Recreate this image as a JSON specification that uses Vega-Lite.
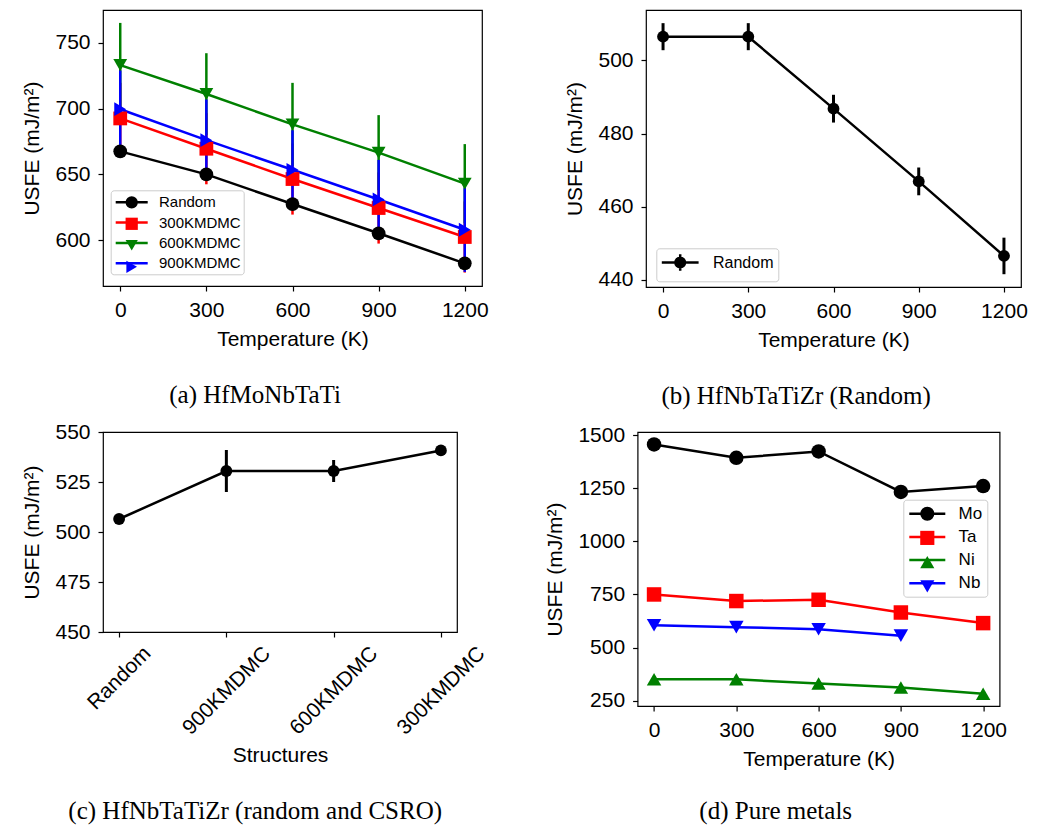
{
  "$schema": "https://vega.github.io/schema/vega-lite/v6.json",
  "background": "white",
  "padding": {"left": 21, "top": 9, "right": 5, "bottom": 3},
  "config": {
    "view": {"stroke": "black", "strokeWidth": 1.2},
    "axis": {"domain": false, "grid": false, "ticks": true, "tickSize": 5, "tickWidth": 1.2, "tickColor": "black",
      "labelFont": "Liberation Sans", "labelFontSize": 21, "labelColor": "black", "labelPadding": 8, "labelFlush": false, "labelOverlap": false,
      "titleFont": "Liberation Sans", "titleFontSize": 21, "titleFontWeight": "normal", "titleColor": "black", "titlePadding": 8},
    "axisY": {"titlePadding": 12},
    "title": {"font": "Liberation Serif", "fontSize": 25, "fontWeight": "normal", "color": "black", "orient": "bottom", "anchor": "middle", "frame": "bounds"}
  },
  "resolve": {"scale": {"color": "independent", "stroke": "independent", "shape": "independent"}, "legend": {"color": "independent", "stroke": "independent", "shape": "independent"}},
  "datasets": {
    "a": [
      {"T": 0, "USFE": 667.5, "err": 2, "s": "Random"},
      {"T": 300, "USFE": 650, "err": 2, "s": "Random"},
      {"T": 600, "USFE": 627.5, "err": 2, "s": "Random"},
      {"T": 900, "USFE": 605.3, "err": 2, "s": "Random"},
      {"T": 1200, "USFE": 582.5, "err": 2, "s": "Random"},
      {"T": 0, "USFE": 692.5, "err": 27, "s": "300KMDMC"},
      {"T": 300, "USFE": 669.5, "err": 27, "s": "300KMDMC"},
      {"T": 600, "USFE": 646.5, "err": 27, "s": "300KMDMC"},
      {"T": 900, "USFE": 624.5, "err": 27, "s": "300KMDMC"},
      {"T": 1200, "USFE": 602.5, "err": 27, "s": "300KMDMC"},
      {"T": 0, "USFE": 733, "err": 32, "s": "600KMDMC"},
      {"T": 300, "USFE": 711, "err": 31, "s": "600KMDMC"},
      {"T": 600, "USFE": 688, "err": 31.5, "s": "600KMDMC"},
      {"T": 900, "USFE": 666.5, "err": 28.5, "s": "600KMDMC"},
      {"T": 1200, "USFE": 643, "err": 30, "s": "600KMDMC"},
      {"T": 0, "USFE": 699.5, "err": 29.5, "s": "900KMDMC"},
      {"T": 300, "USFE": 676, "err": 31, "s": "900KMDMC"},
      {"T": 600, "USFE": 653.5, "err": 30, "s": "900KMDMC"},
      {"T": 900, "USFE": 631, "err": 30, "s": "900KMDMC"},
      {"T": 1200, "USFE": 608, "err": 32, "s": "900KMDMC"}
    ],
    "b": [
      {"T": 0, "USFE": 506.5, "err": 3.7, "s": "Random"},
      {"T": 300, "USFE": 506.5, "err": 3.7, "s": "Random"},
      {"T": 600, "USFE": 486.8, "err": 3.8, "s": "Random"},
      {"T": 900, "USFE": 466.9, "err": 3.8, "s": "Random"},
      {"T": 1200, "USFE": 446.5, "err": 5, "s": "Random"}
    ],
    "c": [
      {"S": "Random", "USFE": 506.5, "err": 1.5},
      {"S": "900KMDMC", "USFE": 530.5, "err": 10.5},
      {"S": "600KMDMC", "USFE": 530.5, "err": 5.5},
      {"S": "300KMDMC", "USFE": 540.8, "err": 1.5}
    ],
    "d": [
      {"T": 0, "USFE": 1457, "m": "Mo"},
      {"T": 300, "USFE": 1394, "m": "Mo"},
      {"T": 600, "USFE": 1424, "m": "Mo"},
      {"T": 900, "USFE": 1233, "m": "Mo"},
      {"T": 1200, "USFE": 1261, "m": "Mo"},
      {"T": 0, "USFE": 750, "m": "Ta"},
      {"T": 300, "USFE": 719, "m": "Ta"},
      {"T": 600, "USFE": 725, "m": "Ta"},
      {"T": 900, "USFE": 665, "m": "Ta"},
      {"T": 1200, "USFE": 615, "m": "Ta"},
      {"T": 0, "USFE": 350, "m": "Ni"},
      {"T": 300, "USFE": 350, "m": "Ni"},
      {"T": 600, "USFE": 330, "m": "Ni"},
      {"T": 900, "USFE": 312, "m": "Ni"},
      {"T": 1200, "USFE": 282, "m": "Ni"},
      {"T": 0, "USFE": 605, "m": "Nb"},
      {"T": 300, "USFE": 596, "m": "Nb"},
      {"T": 600, "USFE": 586, "m": "Nb"},
      {"T": 900, "USFE": 556, "m": "Nb"}
    ]
  },
  "vconcat": [
    {
      "resolve": {"scale": {"color": "independent", "stroke": "independent", "shape": "independent"}, "legend": {"color": "independent", "stroke": "independent", "shape": "independent"}},
      "hconcat": [
        {
          "width": 379, "height": 276,
          "data": {"name": "a"},
          "title": {"text": "(a) HfMoNbTaTi", "offset": 34},
          "encoding": {
            "x": {"field": "T", "type": "quantitative", "scale": {"domain": [-60, 1260], "nice": false, "zero": false}, "axis": {"values": [0, 300, 600, 900, 1200], "format": "d", "title": "Temperature (K)"}},
            "y": {"field": "USFE", "type": "quantitative", "scale": {"domain": [565.3, 774.8], "nice": false, "zero": false}, "axis": {"values": [600, 650, 700, 750], "format": "d", "title": "USFE (mJ/m²)"}}
          },
          "layer": [
            {"mark": {"type": "line", "strokeWidth": 2.5},
             "encoding": {
               "stroke": {"field": "s", "type": "nominal", "sort": ["Random", "300KMDMC", "600KMDMC", "900KMDMC"], "scale": {"range": ["black", "red", "green", "blue"]},
                 "legend": {"title": null, "orient": "none", "legendX": 7.7, "legendY": 180.3, "padding": 2.5, "rowPadding": 2.3, "symbolOffset": 9, "labelOffset": 17.8, "labelAlign": "left",
                   "symbolSize": 256, "symbolStrokeWidth": 2.5, "symbolType": "M-2,0H2",
                   "labelFont": "Liberation Sans", "labelFontSize": 15, "labelColor": "black", "fillColor": "rgba(255,255,255,0.8)", "strokeColor": "#cccccc", "cornerRadius": 3}}}},
            {"transform": [{"filter": "datum.s === 'Random'"}], "mark": {"type": "errorbar", "thickness": 2.5, "color": "black"}, "encoding": {"yError": {"field": "err"}}},
            {"transform": [{"filter": "datum.s === '300KMDMC'"}], "mark": {"type": "errorbar", "thickness": 2.5, "color": "red"}, "encoding": {"yError": {"field": "err"}}},
            {"transform": [{"filter": "datum.s === '600KMDMC'"}], "mark": {"type": "errorbar", "thickness": 2.5, "color": "green"}, "encoding": {"yError": {"field": "err"}}},
            {"transform": [{"filter": "datum.s === '900KMDMC'"}], "mark": {"type": "errorbar", "thickness": 2.5, "color": "blue"}, "encoding": {"yError": {"field": "err"}}},
            {"mark": {"type": "point", "filled": true, "opacity": 1, "size": 190, "strokeWidth": 0},
             "encoding": {
               "color": {"field": "s", "type": "nominal", "scale": {"domain": ["Random", "300KMDMC", "600KMDMC", "900KMDMC"], "range": ["black", "red", "green", "blue"]},
                 "legend": {"title": null, "orient": "none", "legendX": 7.7, "legendY": 180.3, "padding": 2.5, "rowPadding": 1.5, "symbolOffset": 9, "labelOffset": 17.8,
                   "symbolSize": 150, "symbolStrokeWidth": 0, "symbolStrokeColor": "transparent", "labelFontSize": 19, "labelExpr": "' '"}},
               "shape": {"field": "s", "type": "nominal", "scale": {"domain": ["Random", "300KMDMC", "600KMDMC", "900KMDMC"], "range": ["circle", "square", "triangle-down", "triangle-right"]},
                 "legend": {"title": null, "orient": "none", "legendX": 7.7, "legendY": 180.3, "padding": 2.5, "rowPadding": 1.5, "symbolOffset": 9, "labelOffset": 17.8,
                   "symbolSize": 150, "symbolStrokeWidth": 0, "symbolStrokeColor": "transparent", "labelFontSize": 19, "labelExpr": "' '"}}}}
          ]
        },
        {
          "width": 375, "height": 277,
          "data": {"name": "b"},
          "title": {"text": "(b) HfNbTaTiZr (Random)", "offset": 34},
          "encoding": {
            "x": {"field": "T", "type": "quantitative", "scale": {"domain": [-60, 1260], "nice": false, "zero": false}, "axis": {"values": [0, 300, 600, 900, 1200], "format": "d", "title": "Temperature (K)"}},
            "y": {"field": "USFE", "type": "quantitative", "scale": {"domain": [438, 513.8], "nice": false, "zero": false}, "axis": {"values": [440, 460, 480, 500], "format": "d", "title": "USFE (mJ/m²)"}}
          },
          "layer": [
            {"mark": {"type": "errorbar", "thickness": 3, "color": "black"}, "encoding": {"yError": {"field": "err"}}},
            {"mark": {"type": "line", "strokeWidth": 2.5},
             "encoding": {
               "color": {"field": "s", "type": "nominal", "scale": {"domain": ["Random"], "range": ["black"]},
                 "legend": {"title": null, "orient": "none", "legendX": 10.3, "legendY": 238.3, "padding": 4.7, "symbolOffset": 9.7, "labelOffset": 23.3,
                   "symbolSize": 256, "symbolStrokeWidth": 2.5, "symbolType": "M-2.3,0H2.3M0,-1.04V1.04M0.6,0A0.6,0.6,0,1,1,-0.6,0A0.6,0.6,0,1,1,0.6,0Z",
                   "symbolFillColor": "black",
                   "labelFont": "Liberation Sans", "labelFontSize": 16, "labelColor": "black", "fillColor": "rgba(255,255,255,0.8)", "strokeColor": "#cccccc", "cornerRadius": 3}}}},
            {"mark": {"type": "point", "filled": true, "opacity": 1, "size": 140, "shape": "circle", "color": "black"}}
          ]
        }
      ],
      "spacing": 164,
      "bounds": "flush"
    },
    {
      "resolve": {"scale": {"color": "independent", "stroke": "independent", "shape": "independent"}, "legend": {"color": "independent", "stroke": "independent", "shape": "independent"}},
      "hconcat": [
        {
          "width": 354, "height": 200,
          "data": {"name": "c"},
          "title": {"text": "(c) HfNbTaTiZr (random and CSRO)", "offset": 34},
          "encoding": {
            "x": {"field": "S", "type": "nominal", "scale": {"type": "point", "padding": 0.15, "domain": ["Random", "900KMDMC", "600KMDMC", "300KMDMC"]},
              "axis": {"title": "Structures", "titlePadding": 6, "labelAngle": -45, "labelAlign": "center", "labelBaseline": "middle",
                "labelPadding": {"condition": {"test": "datum.value === 'Random'", "value": 41}, "value": 53.5}}},
            "y": {"field": "USFE", "type": "quantitative", "scale": {"domain": [450, 550], "nice": false, "zero": false}, "axis": {"values": [450, 475, 500, 525, 550], "format": "d", "title": "USFE (mJ/m²)"}}
          },
          "layer": [
            {"mark": {"type": "errorbar", "thickness": 3, "color": "black"}, "encoding": {"yError": {"field": "err"}}},
            {"mark": {"type": "line", "strokeWidth": 2.5, "color": "black"}, "encoding": {}},
            {"mark": {"type": "point", "filled": true, "opacity": 1, "size": 140, "shape": "circle", "color": "black"}}
          ]
        },
        {
          "width": 362, "height": 274,
          "data": {"name": "d"},
          "title": {"text": "(d) Pure metals", "offset": 30},
          "encoding": {
            "x": {"field": "T", "type": "quantitative", "scale": {"domain": [-60, 1260], "nice": false, "zero": false}, "axis": {"values": [0, 300, 600, 900, 1200], "format": "d", "title": "Temperature (K)"}},
            "y": {"field": "USFE", "type": "quantitative", "scale": {"domain": [224.4, 1515.6], "nice": false, "zero": false}, "axis": {"values": [250, 500, 750, 1000, 1250, 1500], "format": "d", "title": "USFE (mJ/m²)"}}
          },
          "layer": [
            {"mark": {"type": "line", "strokeWidth": 2.5},
             "encoding": {
               "stroke": {"field": "m", "type": "nominal", "sort": ["Mo", "Ta", "Ni", "Nb"], "scale": {"range": ["black", "red", "green", "blue"]},
                 "legend": {"title": null, "orient": "none", "legendX": 265.7, "legendY": 67.7, "padding": 4.5, "rowPadding": 5.2, "symbolOffset": 10, "labelOffset": 21.8, "labelAlign": "left",
                   "symbolSize": 256, "symbolStrokeWidth": 2.5, "symbolType": "M-2.25,0H2.25",
                   "labelFont": "Liberation Sans", "labelFontSize": 17, "labelColor": "black", "fillColor": "rgba(255,255,255,0.8)", "strokeColor": "#cccccc", "cornerRadius": 3}}}},
            {"mark": {"type": "point", "filled": true, "opacity": 1, "size": 210, "strokeWidth": 0},
             "encoding": {
               "color": {"field": "m", "type": "nominal", "scale": {"domain": ["Mo", "Ta", "Ni", "Nb"], "range": ["black", "red", "green", "blue"]},
                 "legend": {"title": null, "orient": "none", "legendX": 265.7, "legendY": 67.7, "padding": 4.5, "rowPadding": 4.2, "symbolOffset": 10, "labelOffset": 21.8,
                   "symbolSize": 200, "symbolStrokeWidth": 0, "symbolStrokeColor": "transparent", "labelFontSize": 19, "labelExpr": "' '"}},
               "shape": {"field": "m", "type": "nominal", "scale": {"domain": ["Mo", "Ta", "Ni", "Nb"], "range": ["circle", "square", "triangle-up", "triangle-down"]},
                 "legend": {"title": null, "orient": "none", "legendX": 265.7, "legendY": 67.7, "padding": 4.5, "rowPadding": 4.2, "symbolOffset": 10, "labelOffset": 21.8,
                   "symbolSize": 200, "symbolStrokeWidth": 0, "symbolStrokeColor": "transparent", "labelFontSize": 19, "labelExpr": "' '"}}}}
          ]
        }
      ],
      "spacing": 180.6,
      "bounds": "flush"
    }
  ],
  "spacing": 10
}
